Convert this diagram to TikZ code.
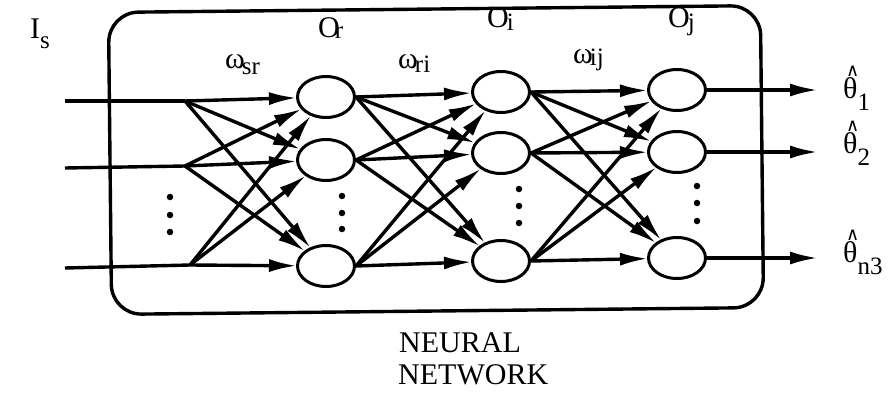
\documentclass[tikz,border=0pt]{standalone}
\usepackage{fontspec}
\setmainfont{Liberation Serif}
\newfontfamily\hatfont{DejaVu Sans}
\usetikzlibrary{arrows.meta,shapes.geometric}
\newcommand\sbs[2]{\raisebox{-#1pt}{\fontsize{25}{25}\selectfont #2}}
\newcommand\hth{\makebox[0pt][l]{\raisebox{22pt}{\kern3pt\hatfont\fontsize{18}{18}\selectfont ∧}}θ}
\tikzset{
  neuron/.style={draw, ellipse, line width=3pt, minimum width=57pt, minimum height=41pt, inner sep=0pt},
  wire/.style={line width=3.4pt},
  arr/.style={line width=3.4pt, -{Latex[length=28pt,width=13pt]}, shorten >=-1pt},
  lbl/.style={inner sep=0pt, anchor=base west, font=\fontsize{30}{32}\selectfont},
  dot/.style={circle, fill, inner sep=0pt, minimum size=6.5pt},
}
\begin{document}
\begin{tikzpicture}[x=1pt,y=-1pt]
\useasboundingbox (0,0) rectangle (895,394);
% box
\draw[line width=3.4pt, rounded corners=30pt, rotate around={0.6:(436,160)}] (110,9) rectangle (762,311);
% neurons
\node[neuron] (r1) at (326,97) {};
\node[neuron] (r2) at (326,160) {};
\node[neuron] (r3) at (326,266) {};
\node[neuron] (i1) at (501,92) {};
\node[neuron] (i2) at (501,153) {};
\node[neuron] (i3) at (501,261) {};
\node[neuron] (j1) at (677,90) {};
\node[neuron] (j2) at (677,152) {};
\node[neuron] (j3) at (677,258) {};
% input coordinates
\coordinate (s1) at (65,101);
\coordinate (s2) at (65,168);
\coordinate (s3) at (65,268);
\coordinate (f1) at (185,101);
\coordinate (f2) at (185,166);
\coordinate (f3) at (190,265);
\draw[wire] (s1) -- (f1);
\draw[wire] (s2) -- (f2);
\draw[wire] (s3) -- (f3);
\foreach \f in {f1,f2,f3}{
  \foreach \n in {r1,r2,r3}{
    \draw[arr] (\f) -- (\n);
  }
}
\foreach \a in {r1,r2,r3}{
  \foreach \b in {i1,i2,i3}{
    \draw[arr] (\a.east) -- (\b);
  }
}
\foreach \a in {i1,i2,i3}{
  \foreach \b in {j1,j2,j3}{
    \draw[arr] (\a.east) -- (\b);
  }
}
% outputs
\coordinate (o1) at (818,90);
\coordinate (o2) at (818,152);
\coordinate (o3) at (818,258);
\draw[arr, shorten >=0pt] (j1.east) -- (o1);
\draw[arr, shorten >=0pt] (j2.east) -- (o2);
\draw[arr, shorten >=0pt] (j3.east) -- (o3);
% dots
\foreach \x/\y in {170/197,170/215,170/232, 342/196,342/213,342/229, 519/189,519/206,519/223, 697/186,697/203,697/221}{
  \node[dot] at (\x,\y) {};
}
% labels
\node[lbl] (Is) at (30,38) {I\sbs{10}{s}};
\node[lbl] (Or) at (318,37) {O\kern-5pt\sbs{1}{r}};
\node[lbl] (Oi) at (487,27) {O\kern-2pt\sbs{3}{i}};
\node[lbl] (Oj) at (668,27) {O\kern-2pt\sbs{3}{j}};
\node[lbl] (wsr) at (225,68) {ω\kern-3pt\sbs{6}{sr}};
\node[lbl] (wri) at (398,68) {ω\kern-3pt\sbs{4}{ri}};
\node[lbl] (wij) at (573,63) {ω\kern-3pt\sbs{2}{ij}};
\node[lbl] (t1) at (843,98) {\hth\sbs{12}{1}};
\node[lbl] (t2) at (843,153) {\hth\sbs{12}{2}};
\node[lbl] (t3) at (843,262) {\hth\sbs{12}{n3}};
\node[lbl] (nn1) at (399,352) {NEURAL};
\node[lbl] (nn2) at (398,384) {NETWORK};
\end{tikzpicture}
\end{document}
